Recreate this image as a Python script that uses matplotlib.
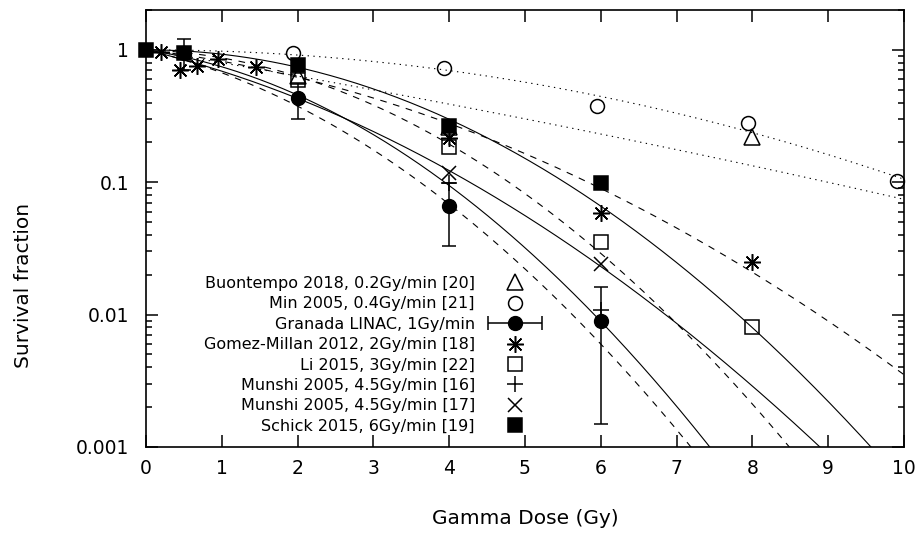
import numpy as np
import matplotlib.pyplot as plt
from matplotlib.legend_handler import HandlerErrorbar
from matplotlib.ticker import LogLocator, NullFormatter, FixedLocator, FixedFormatter

bu_dose = [2, 4, 8]
bu_sf = [0.63, 0.26, 0.22]

min_dose = [1.94, 3.93, 5.95, 7.94, 9.91]
min_sf = [0.94, 0.73, 0.377, 0.279, 0.103]

gr_dose = [0.5, 2, 4, 6]
gr_sf = [0.95, 0.43, 0.066, 0.0089]
gr_err = [0.25, 0.13, 0.033, 0.0074]

gm_dose = [0.2, 0.45, 0.67, 0.95, 1.45, 4, 6, 8]
gm_sf = [0.97, 0.70, 0.76, 0.85, 0.74, 0.217, 0.0586, 0.025]

li_dose = [2, 4, 6, 8]
li_sf = [0.59, 0.186, 0.0356, 0.0081]

mu16_dose = [4, 6]
mu16_sf = [0.099, 0.0108]

mu17_dose = [4, 6]
mu17_sf = [0.118, 0.024]

sc_dose = [0, 0.5, 2, 4, 6]
sc_sf = [1.0, 0.95, 0.77, 0.267, 0.098]

# Linear-quadratic fits S = exp(-alpha*D - beta*D^2)
fit_alpha = [0.22, 0.0, 0.308, 0.157, 0.05, 0.196, 0.319, 0.0]
fit_beta = [0.004, 0.0225, 0.0908, 0.0408, 0.09, 0.0985, 0.0515, 0.0755]
fit_style = ['dot', 'dot', 'dash', 'dash', 'dash', 'solid', 'solid', 'solid']

labels = ['Buontempo 2018, 0.2Gy/min [20]', 'Min 2005, 0.4Gy/min [21]',
          'Granada LINAC, 1Gy/min', 'Gomez-Millan 2012, 2Gy/min [18]',
          'Li 2015, 3Gy/min [22]', 'Munshi 2005, 4.5Gy/min [16]',
          'Munshi 2005, 4.5Gy/min [17]', 'Schick 2015, 6Gy/min [19]']

plt.rcParams['font.family'] = 'DejaVu Sans'

fig = plt.figure(figsize=(9.21, 5.35), dpi=100)
ax = fig.add_axes([0.1585, 0.1645, 0.823, 0.8168])

# Fitted curves
D = np.linspace(0, 10, 400)
styles = {'dot': (0, (1.2, 4)), 'dash': (0, (6, 6)), 'solid': '-'}
for a, b, s in zip(fit_alpha, fit_beta, fit_style):
    ax.plot(D, np.exp(-a * D - b * D ** 2), color='black', lw=0.8,
            linestyle=styles[s], zorder=1)

ms_kw = dict(linestyle='none', color='black', clip_on=False, zorder=3)
asterisk = (8, 2, 0)

h_bu, = ax.plot(bu_dose, bu_sf, marker='^', ms=11, mfc='none', mew=1.1, **ms_kw)
h_min, = ax.plot(min_dose, min_sf, marker='o', ms=10, mfc='none', mew=1.1, **ms_kw)
ax.errorbar(gr_dose, gr_sf, yerr=gr_err, fmt='o', color='black', ms=10,
            elinewidth=1.1, capsize=5, capthick=1.1, zorder=3, clip_on=False)
h_gr = ax.errorbar([np.nan], [np.nan], xerr=[np.nan], fmt='o', color='black',
                   ms=10, elinewidth=1.1, capsize=5, capthick=1.1)
h_gm, = ax.plot(gm_dose, gm_sf, marker=asterisk, ms=12, mew=1.1, **ms_kw)
h_li, = ax.plot(li_dose, li_sf, marker='s', ms=10, mfc='none', mew=1.1, **ms_kw)
h_m16, = ax.plot(mu16_dose, mu16_sf, marker='+', ms=11, mew=1.1, **ms_kw)
h_m17, = ax.plot(mu17_dose, mu17_sf, marker='x', ms=10, mew=1.1, **ms_kw)
h_sc, = ax.plot(sc_dose, sc_sf, marker='s', ms=10, mfc='black', mew=1.1, **ms_kw)

ax.set_yscale('log')
ax.set_xlim(0, 10)
ax.set_ylim(0.001, 2)

ax.set_xticks(range(0, 11))
ax.yaxis.set_major_locator(FixedLocator([0.001, 0.01, 0.1, 1]))
ax.yaxis.set_major_formatter(FixedFormatter(['0.001', '0.01', '0.1', '1']))
ax.yaxis.set_minor_locator(LogLocator(base=10, subs=np.arange(2, 10)))
ax.yaxis.set_minor_formatter(NullFormatter())

ax.tick_params(which='both', direction='in', top=True, right=True, width=1.1)
ax.tick_params(which='major', length=8.5)
ax.tick_params(which='minor', length=4.3)
ax.tick_params(axis='x', labelsize=13.5, pad=9)
ax.tick_params(axis='y', labelsize=13.5, pad=12)
for sp in ax.spines.values():
    sp.set_linewidth(1.2)

ax.set_xlabel('Gamma Dose (Gy)', fontsize=14.5, labelpad=22)
ax.set_ylabel('Survival fraction', fontsize=14.5)
ax.yaxis.set_label_coords(-0.149, 0.37)

handles = [h_bu, h_min, h_gr, h_gm, h_li, h_m16, h_m17, h_sc]
ax.legend(handles, labels, loc='lower right', bbox_to_anchor=(0.5224, 0.03),
          markerfirst=False, frameon=False, fontsize=11.5, handlelength=3.4,
          handletextpad=0.8, labelspacing=0.34, borderpad=0, borderaxespad=0,
          numpoints=1, handler_map={type(h_gr): HandlerErrorbar(xerr_size=1.7)})

fig.savefig('out.png', dpi=100)
